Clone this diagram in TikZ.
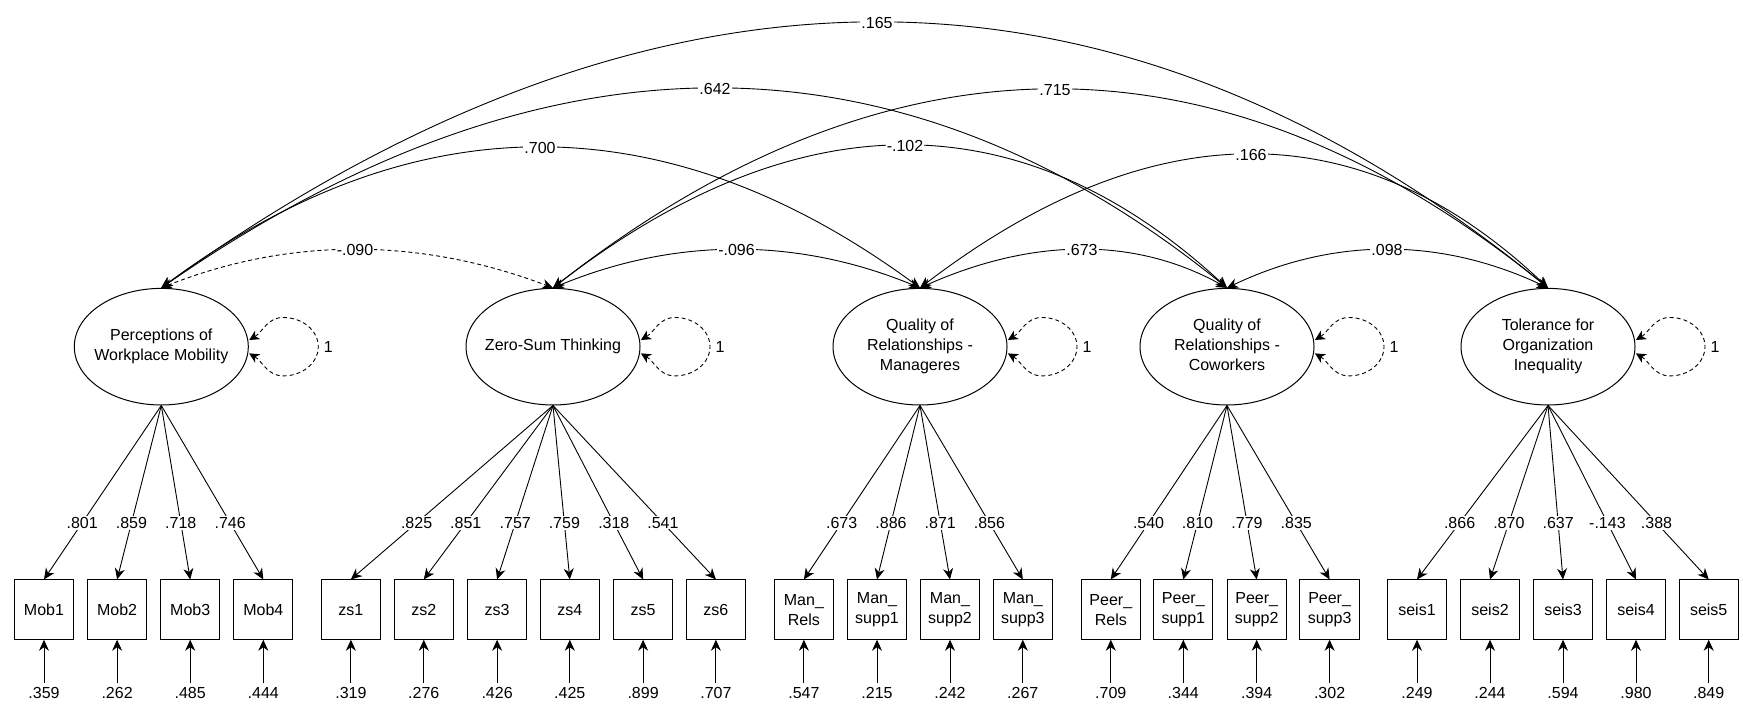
\documentclass[tikz,border=0pt]{standalone}
\usepackage{fontspec}
\setmainfont{Liberation Sans}
\usetikzlibrary{arrows.meta,shapes.geometric}
\newcommand{\lattext}[1]{\makebox[0pt]{\begin{tabular}{@{}c@{}}#1\end{tabular}}}
\begin{document}
\begin{tikzpicture}[x=1pt,y=1pt,
  font=\fontsize{16}{20}\selectfont,
  lat/.style={ellipse, draw, line width=1pt, minimum width=174pt, minimum height=116.6pt, inner sep=0pt},
  obs/.style={rectangle, draw, line width=1pt, minimum width=59.3pt, minimum height=59.3pt, inner sep=0pt, align=center},
  load/.style={line width=0.9pt, -{Stealth[length=11pt,width=10pt,inset=3.5pt]}},
  biarc/.style={line width=0.9pt, {Stealth[length=11pt,width=10pt,inset=3.5pt]}-{Stealth[length=11pt,width=10pt,inset=3.5pt]}},
  dasharc/.style={biarc, dash pattern=on 4pt off 3pt},
  vloop/.style={line width=0.9pt, dash pattern=on 4pt off 3pt, {Stealth[length=10pt,width=10pt,inset=3pt]}-{Stealth[length=10pt,width=10pt,inset=3pt]}},
  lab/.style={fill=white, inner sep=1pt},
  errl/.style={inner sep=4.5pt},
]
\useasboundingbox (0,0) rectangle (1743,711);

% latent variables
\node[lat] (L1) at (161.3,364.3) {\lattext{Perceptions of\\Workplace Mobility}};
\node[lat] (L2) at (553,364.3) {\lattext{Zero-Sum Thinking}};
\node[lat] (L3) at (920,364.3) {\lattext{Quality of\\Relationships -\\Manageres}};
\node[lat] (L4) at (1227,364.3) {\lattext{Quality of\\Relationships -\\Coworkers}};
\node[lat] (L5) at (1548,364.3) {\lattext{Tolerance for\\Organization\\Inequality}};

% variance loops
\foreach \n/\x in {L1/161.3,L2/553,L3/920,L4/1227,L5/1548}{
  \draw[vloop] ([shift={(87.9,6.7)}]\n.center) to[out=31,in=180] ([shift={(122,29.2)}]\n.center)
     arc[start angle=90, end angle=-90, x radius=35, y radius=29.2]
     to[out=180,in=-31] ([shift={(87.9,-6.7)}]\n.center);
  \node (one\n) at (\x+167,364.3) {1};
}

% observed variables
\node[obs] (M1) at (44,101.4) {Mob1};
\node[obs] (M2) at (117.1,101.4) {Mob2};
\node[obs] (M3) at (190.2,101.4) {Mob3};
\node[obs] (M4) at (263.3,101.4) {Mob4};
\node[obs] (Z1) at (350.9,101.4) {zs1};
\node[obs] (Z2) at (423.8,101.4) {zs2};
\node[obs] (Z3) at (497.1,101.4) {zs3};
\node[obs] (Z4) at (569.8,101.4) {zs4};
\node[obs] (Z5) at (643.1,101.4) {zs5};
\node[obs] (Z6) at (715.9,101.4) {zs6};
\node[obs] (A1) at (803.9,101.4) {Man\_\\Rels};
\node[obs] (A2) at (877,101.4) {Man\_\\supp1};
\node[obs] (A3) at (950,101.4) {Man\_\\supp2};
\node[obs] (A4) at (1022.8,101.4) {Man\_\\supp3};
\node[obs] (P1) at (1110.8,101.4) {Peer\_\\Rels};
\node[obs] (P2) at (1183.3,101.4) {Peer\_\\supp1};
\node[obs] (P3) at (1256.7,101.4) {Peer\_\\supp2};
\node[obs] (P4) at (1329.6,101.4) {Peer\_\\supp3};
\node[obs] (S1) at (1417,101.4) {seis1};
\node[obs] (S2) at (1490,101.4) {seis2};
\node[obs] (S3) at (1563,101.4) {seis3};
\node[obs] (S4) at (1636,101.4) {seis4};
\node[obs] (S5) at (1708.7,101.4) {seis5};

% loadings
\foreach \l/\o/\v in {L1/M1/.801,L1/M2/.859,L1/M3/.718,L1/M4/.746,
  L2/Z1/.825,L2/Z2/.851,L2/Z3/.757,L2/Z4/.759,L2/Z5/.318,L2/Z6/.541,
  L3/A1/.673,L3/A2/.886,L3/A3/.871,L3/A4/.856,
  L4/P1/.540,L4/P2/.810,L4/P3/.779,L4/P4/.835,
  L5/S1/.866,L5/S2/.870,L5/S3/.637,L5/S4/-.143,L5/S5/.388}{
  \draw[load] (\l.south) -- node[lab,pos=0.675] {\v} (\o.north);
}

% residuals
\foreach \o/\x/\v in {M1/44/.359,M2/117.1/.262,M3/190.2/.485,M4/263.3/.444,
  Z1/350.9/.319,Z2/423.8/.276,Z3/497.1/.426,Z4/569.8/.425,Z5/643.1/.899,Z6/715.9/.707,
  A1/803.9/.547,A2/877/.215,A3/950/.242,A4/1022.8/.267,
  P1/1110.8/.709,P2/1183.3/.344,P3/1256.7/.394,P4/1329.6/.302,
  S1/1417/.249,S2/1490/.244,S3/1563/.594,S4/1636/.980,S5/1708.7/.849}{
  \node[errl] (e\o) at (\x,17.7) {\v};
  \draw[load] (e\o.north) -- (\o.south);
}

% covariances
\draw[biarc] (L1.north) .. controls (653.3,776.4) and (1115.6,776.4) .. node[lab] {.165} (L5.north);
\draw[biarc] (L1.north) .. controls (544.3,688.4) and (899.6,688.4) .. node[lab] {.642} (L4.north);
\draw[biarc] (L2.north) .. controls (890.7,687.1) and (1222.3,687.1) .. node[lab] {.715} (L5.north);
\draw[biarc] (L1.north) .. controls (413.3,609.8) and (666.2,609.8) .. node[lab] {.700} (L3.north);
\draw[biarc] (L2.north) .. controls (797.7,612.4) and (1022.3,612.4) .. node[lab] {-.102} (L4.north);
\draw[biarc] (L3.north) .. controls (1152,600.4) and (1361.3,600.4) .. node[lab] {.166} (L5.north);
\draw[dasharc] (L1.north) .. controls (289,473.8) and (419.6,473.8) .. node[lab] {-.090} (L2.north);
\draw[biarc] (L2.north) .. controls (675.3,473.8) and (797.7,473.8) .. node[lab] {-.096} (L3.north);
\draw[biarc] (L3.north) .. controls (1033.7,473.8) and (1136,473.8) .. node[lab] {.673} (L4.north);
\draw[biarc] (L4.north) .. controls (1333.3,473.8) and (1440.3,473.8) .. node[lab] {.098} (L5.north);
\end{tikzpicture}
\end{document}
